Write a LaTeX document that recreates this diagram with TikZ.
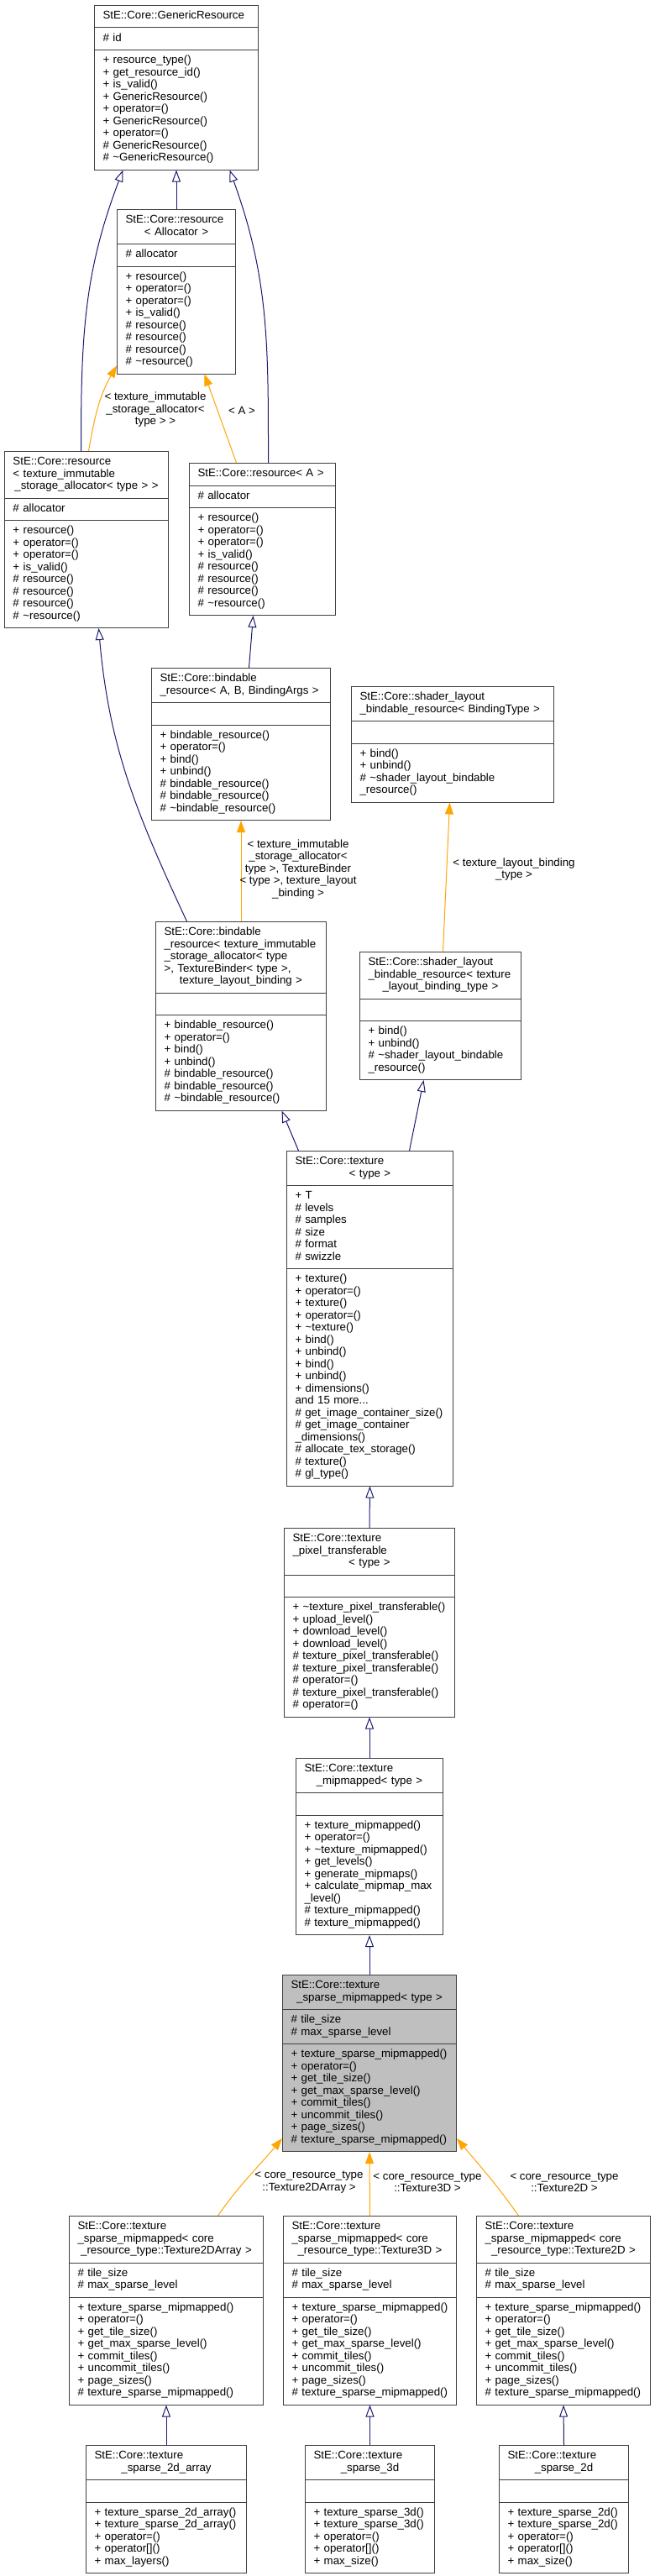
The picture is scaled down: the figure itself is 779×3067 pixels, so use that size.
\documentclass[tikz,border=0pt]{standalone}
\usepackage{fontspec}
\setmainfont{Liberation Sans}
\usetikzlibrary{arrows.meta}
\usetikzlibrary{shapes.multipart}

\definecolor{edgeblue}{HTML}{191970}
\definecolor{edgeorange}{HTML}{FFA500}
\definecolor{boxgrey}{HTML}{BFBFBF}

\newcommand{\umlparts}[3]{\strut#1\strut\nodepart{two}\strut#2\strut\nodepart{three}\strut#3\strut}
\newcommand{\ctrline}[1]{\hspace*{\fill}#1\hspace*{\fill}}

\begin{document}
\begin{tikzpicture}[x=1pt, y=-1pt,
  classbox/.style={draw=black!75, line width=1pt, fill=white, shape=rectangle split, rectangle split parts=3, inner xsep=10pt, inner ysep=5.5pt, align=left, anchor=north west, font=\fontsize{13.3}{14.5}\selectfont},
  inherit/.style={draw=edgeblue, line width=1pt, -{Triangle[open, length=14pt, width=10pt]}},
  instance/.style={draw=edgeorange, line width=1pt, -{Triangle[length=14pt, width=10pt]}},
  edgelabel/.style={align=center, inner sep=0pt, font=\fontsize{13.3}{14.5}\selectfont}]

\useasboundingbox[fill=white] (0, 0) rectangle (779, 3067);

\node[classbox, text width=175pt] (genericRes) at (112, 6) {\umlparts{StE::Core::GenericResource}{\#~id}{+~resource\_type()\\+~get\_resource\_id()\\+~is\_valid()\\+~GenericResource()\\+~operator=()\\+~GenericResource()\\+~operator=()\\\#~GenericResource()\\\#~\textasciitilde GenericResource()}};

\node[classbox, text width=121pt] (resAlloc) at (139, 249) {\umlparts{StE::Core::resource\\\ctrline{<~Allocator~>}}{\#~allocator}{+~resource()\\+~operator=()\\+~operator=()\\+~is\_valid()\\\#~resource()\\\#~resource()\\\#~resource()\\\#~\textasciitilde resource()}};

\node[classbox, text width=175pt] (resTex) at (5, 537) {\umlparts{StE::Core::resource\\<~texture\_immutable\\\ctrline{\_storage\_allocator<~type~>~>}}{\#~allocator}{+~resource()\\+~operator=()\\+~operator=()\\+~is\_valid()\\\#~resource()\\\#~resource()\\\#~resource()\\\#~\textasciitilde resource()}};

\node[classbox, text width=154pt] (resA) at (225, 551) {\umlparts{StE::Core::resource<~A~>}{\#~allocator}{+~resource()\\+~operator=()\\+~operator=()\\+~is\_valid()\\\#~resource()\\\#~resource()\\\#~resource()\\\#~\textasciitilde resource()}};

\node[classbox, text width=193pt] (bindArgs) at (180, 795) {\umlparts{StE::Core::bindable\\\_resource<~A,~B,~BindingArgs~>}{}{+~bindable\_resource()\\+~operator=()\\+~bind()\\+~unbind()\\\#~bindable\_resource()\\\#~bindable\_resource()\\\#~\textasciitilde bindable\_resource()}};

\node[classbox, text width=183pt] (bindTex) at (185, 1097) {\umlparts{StE::Core::bindable\\\_resource<~texture\_immutable\\\_storage\_allocator<~type\\>,~TextureBinder<~type~>,\\\ctrline{texture\_layout\_binding~>}}{}{+~bindable\_resource()\\+~operator=()\\+~bind()\\+~unbind()\\\#~bindable\_resource()\\\#~bindable\_resource()\\\#~\textasciitilde bindable\_resource()}};

\node[classbox, text width=221pt] (shaderType) at (418, 817) {\umlparts{StE::Core::shader\_layout\\\_bindable\_resource<~BindingType~>}{}{+~bind()\\+~unbind()\\\#~\textasciitilde shader\_layout\_bindable\\\_resource()}};

\node[classbox, text width=172pt] (shaderTex) at (428, 1133) {\umlparts{StE::Core::shader\_layout\\\_bindable\_resource<~texture\\\ctrline{\_layout\_binding\_type~>}}{}{+~bind()\\+~unbind()\\\#~\textasciitilde shader\_layout\_bindable\\\_resource()}};

\node[classbox, text width=178pt] (texture) at (341, 1370) {\umlparts{StE::Core::texture\\\ctrline{<~type~>}}{+~T\\\#~levels\\\#~samples\\\#~size\\\#~format\\\#~swizzle}{+~texture()\\+~operator=()\\+~texture()\\+~operator=()\\+~\textasciitilde texture()\\+~bind()\\+~unbind()\\+~bind()\\+~unbind()\\+~dimensions()\\and~15~more...\\\#~get\_image\_container\_size()\\\#~get\_image\_container\\\_dimensions()\\\#~allocate\_tex\_storage()\\\#~texture()\\\#~gl\_type()}};

\node[classbox, text width=183pt] (pixelTransfer) at (338, 1819) {\umlparts{StE::Core::texture\\\_pixel\_transferable\\\ctrline{<~type~>}}{}{+~\textasciitilde texture\_pixel\_transferable()\\+~upload\_level()\\+~download\_level()\\+~download\_level()\\\#~texture\_pixel\_transferable()\\\#~texture\_pixel\_transferable()\\\#~operator=()\\\#~texture\_pixel\_transferable()\\\#~operator=()}};

\node[classbox, text width=155pt] (mipmapped) at (352, 2093) {\umlparts{StE::Core::texture\\\ctrline{\_mipmapped<~type~>}}{}{+~texture\_mipmapped()\\+~operator=()\\+~\textasciitilde texture\_mipmapped()\\+~get\_levels()\\+~generate\_mipmaps()\\+~calculate\_mipmap\_max\\\_level()\\\#~texture\_mipmapped()\\\#~texture\_mipmapped()}};

\node[classbox, text width=187pt, fill=boxgrey] (sparseMip) at (336, 2351) {\umlparts{StE::Core::texture\\\ctrline{\_sparse\_mipmapped<~type~>}}{\#~tile\_size\\\#~max\_sparse\_level}{+~texture\_sparse\_mipmapped()\\+~operator=()\\+~get\_tile\_size()\\+~get\_max\_sparse\_level()\\+~commit\_tiles()\\+~uncommit\_tiles()\\+~page\_sizes()\\\#~texture\_sparse\_mipmapped()}};

\node[classbox, text width=211pt] (sparseArray) at (82, 2638) {\umlparts{StE::Core::texture\\\_sparse\_mipmapped<~core\\\ctrline{\_resource\_type::Texture2DArray~>}}{\#~tile\_size\\\#~max\_sparse\_level}{+~texture\_sparse\_mipmapped()\\+~operator=()\\+~get\_tile\_size()\\+~get\_max\_sparse\_level()\\+~commit\_tiles()\\+~uncommit\_tiles()\\+~page\_sizes()\\\#~texture\_sparse\_mipmapped()}};

\node[classbox, text width=186pt] (sparseThree) at (337, 2638) {\umlparts{StE::Core::texture\\\_sparse\_mipmapped<~core\\\ctrline{\_resource\_type::Texture3D~>}}{\#~tile\_size\\\#~max\_sparse\_level}{+~texture\_sparse\_mipmapped()\\+~operator=()\\+~get\_tile\_size()\\+~get\_max\_sparse\_level()\\+~commit\_tiles()\\+~uncommit\_tiles()\\+~page\_sizes()\\\#~texture\_sparse\_mipmapped()}};

\node[classbox, text width=187pt] (sparseTwo) at (567, 2638) {\umlparts{StE::Core::texture\\\_sparse\_mipmapped<~core\\\ctrline{\_resource\_type::Texture2D~>}}{\#~tile\_size\\\#~max\_sparse\_level}{+~texture\_sparse\_mipmapped()\\+~operator=()\\+~get\_tile\_size()\\+~get\_max\_sparse\_level()\\+~commit\_tiles()\\+~uncommit\_tiles()\\+~page\_sizes()\\\#~texture\_sparse\_mipmapped()}};

\node[classbox, text width=171pt] (texArray) at (102, 2911) {\umlparts{StE::Core::texture\\\ctrline{\_sparse\_2d\_array}}{}{+~texture\_sparse\_2d\_array()\\+~texture\_sparse\_2d\_array()\\+~operator=()\\+~operator[]()\\+~max\_layers()}};

\node[classbox, text width=134pt] (texThree) at (363, 2911) {\umlparts{StE::Core::texture\\\ctrline{\_sparse\_3d}}{}{+~texture\_sparse\_3d()\\+~texture\_sparse\_3d()\\+~operator=()\\+~operator[]()\\+~max\_size()}};

\node[classbox, text width=134pt] (texTwo) at (594, 2911) {\umlparts{StE::Core::texture\\\ctrline{\_sparse\_2d}}{}{+~texture\_sparse\_2d()\\+~texture\_sparse\_2d()\\+~operator=()\\+~operator[]()\\+~max\_size()}};

\draw[inherit] ([xshift=-6.5]resTex.north) to[out=90, in=-111] ([xshift=-63.5]genericRes.south);
\draw[inherit] (resAlloc.north) -- (genericRes.south);
\draw[inherit] ([xshift=7]resA.north) to[out=90, in=-70] ([xshift=63.5]genericRes.south);
\draw[instance] ([xshift=2.5]resTex.north) to[out=80, in=-120] ([yshift=10]resAlloc.south west);
\draw[instance] ([xshift=-31]resA.north) -- ([xshift=33.5]resAlloc.south);
\draw[inherit] ([xshift=9.5]bindArgs.north) -- ([xshift=-11]resA.south);
\draw[inherit] ([xshift=-64.5]bindTex.north) to[out=115, in=-85] ([xshift=14.5]resTex.south);
\draw[instance] (bindTex.north) -- (bindArgs.south);
\draw[instance] ([xshift=3]shaderTex.north) -- ([xshift=-3.5]shaderType.south);
\draw[inherit] ([xshift=-85]texture.north) -- ([xshift=48.5]bindTex.south);
\draw[inherit] ([xshift=47]texture.north) -- ([xshift=-20]shaderTex.south);
\draw[inherit] (pixelTransfer.north) -- (texture.south);
\draw[inherit] (mipmapped.north) -- (pixelTransfer.south);
\draw[inherit] (sparseMip.north) -- (mipmapped.south);
\draw[instance] ([xshift=61.5]sparseArray.north) to[out=55, in=-130] ([yshift=16]sparseMip.south west);
\draw[instance] (sparseThree.north) -- (sparseMip.south);
\draw[instance] ([xshift=-53.5]sparseTwo.north) to[out=125, in=-50] ([yshift=16]sparseMip.south east);
\draw[inherit] (texArray.north) -- (sparseArray.south);
\draw[inherit] (texThree.north) -- (sparseThree.south);
\draw[inherit] (texTwo.north) -- (sparseTwo.south);

\node[edgelabel] (lblAlloc) at (185, 488) {<~texture\_immutable\\\_storage\_allocator<\\type~>~>};
\node[edgelabel] (lblA) at (288, 489) {<~A~>};
\node[edgelabel] (lblBind) at (355, 1035) {<~texture\_immutable\\\_storage\_allocator<\\type~>,~TextureBinder\\<~type~>,~texture\_layout\\\_binding~>};
\node[edgelabel] (lblShader) at (612, 1035) {<~texture\_layout\_binding\\\_type~>};
\node[edgelabel] (lblArray) at (368, 2598) {<~core\_resource\_type\\::Texture2DArray~>};
\node[edgelabel] (lblThree) at (509, 2598) {<~core\_resource\_type\\::Texture3D~>};
\node[edgelabel] (lblTwo) at (672, 2598) {<~core\_resource\_type\\::Texture2D~>};

\end{tikzpicture}
\end{document}
